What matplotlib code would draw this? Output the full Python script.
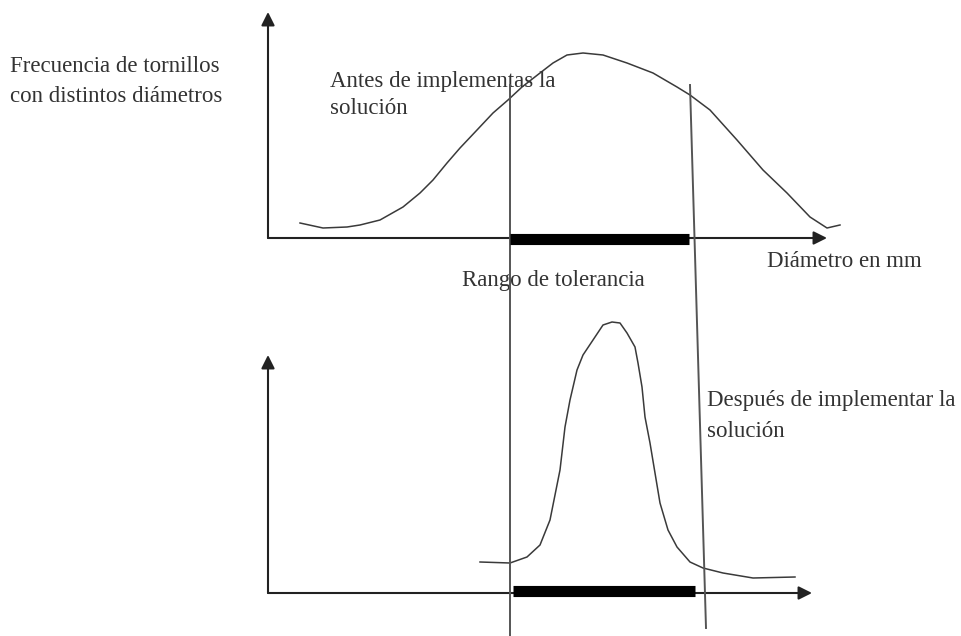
import matplotlib
matplotlib.use("Agg")
import matplotlib.pyplot as plt

# ---- data (pixel-space schematic) ----
before_x = [300, 323, 347, 360, 380, 403, 420, 433, 447, 460, 477, 493, 508, 522, 540,
            553, 567, 583, 603, 627, 653, 677, 690, 710, 737, 763, 787, 810, 827, 840]
before_y = [223, 228, 227, 225, 220, 207, 193, 180, 163, 148, 130, 113, 100, 87, 73,
            63, 55, 53, 55, 63, 73, 87, 95, 110, 140, 170, 193, 217, 228, 225]

after_x = [480, 510, 527, 540, 550, 560, 565, 570, 577, 583, 593, 603, 612, 620, 627,
           635, 638, 642, 645, 650, 655, 660, 668, 677, 690, 703, 723, 753, 795]
after_y = [562, 563, 557, 545, 520, 470, 427, 400, 370, 355, 340, 325, 322, 323, 333,
           347, 363, 387, 417, 443, 473, 503, 530, 547, 562, 568, 573, 578, 577]

tol_low = [510, 510]
tol_high = [690, 706]
tol_line_y = [85, 636]
tol_high_line_y = [85, 628]

top_bar = [510, 689]
bottom_bar = [513, 695]

# ---- figure ----
fig = plt.figure(figsize=(9.62, 6.36), dpi=100)
ax = fig.add_axes([0, 0, 1, 1])
ax.set_xlim(0, 962)
ax.set_ylim(636, 0)
ax.axis("off")

line_c = "#3a3a3a"
text_c = "#333333"
font = dict(family="Liberation Serif", color=text_c, fontsize=16.5)

def arrow(x0, y0, x1, y1):
    ax.annotate("", xy=(x1, y1), xytext=(x0, y0),
                arrowprops=dict(arrowstyle="-|>", color="#222222", lw=1.5,
                                mutation_scale=20, shrinkA=0, shrinkB=0),
                zorder=2)

# axes of top panel
arrow(268, 238, 268, 12)
arrow(268, 238, 827, 238)
# axes of bottom panel
arrow(268, 593, 268, 355)
arrow(268, 593, 812, 593)

# tolerance bars
ax.plot(top_bar, [239, 239], color="black", lw=8, solid_capstyle="butt", zorder=5)
ax.plot(bottom_bar, [591, 591], color="black", lw=8, solid_capstyle="butt", zorder=5)

# tolerance vertical lines
ax.plot(tol_low, tol_line_y, color="#555555", lw=1.4, zorder=4)
ax.plot(tol_high, tol_high_line_y, color="#555555", lw=1.4, zorder=4)

# curves
ax.plot(before_x, before_y, color=line_c, lw=1.1, zorder=3)
ax.plot(after_x, after_y, color=line_c, lw=1.1, zorder=3)

# texts
va = "center_baseline"
ax.text(10, 64, "Frecuencia de tornillos", va=va, ha="left", **font)
ax.text(10, 94, "con distintos diámetros", va=va, ha="left", **font)
ax.text(330, 79, "Antes de implementas la", va=va, ha="left", **font)
ax.text(330, 106, "solución", va=va, ha="left", **font)
ax.text(767, 259, "Diámetro en mm", va=va, ha="left", **font)
ax.text(462, 278, "Rango de tolerancia", va=va, ha="left", **font)
ax.text(707, 398, "Después de implementar la", va=va, ha="left", **font)
ax.text(707, 429, "solución", va=va, ha="left", **font)

fig.savefig("out.png", dpi=100, facecolor="white")
